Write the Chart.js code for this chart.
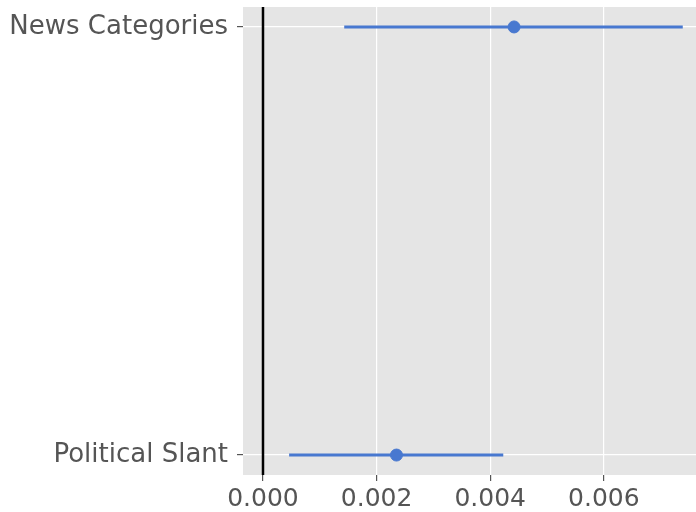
<!DOCTYPE html>
<html>
<head>
<meta charset="utf-8">
<script src="https://cdn.jsdelivr.net/npm/chart.js@4.4.0/dist/chart.umd.min.js"></script>
<style>
  html, body { margin: 0; padding: 0; background: #fff; overflow: hidden; }
  canvas { display: block; }
</style>
</head>
<body>
<canvas id="myChart" width="696" height="512"></canvas>
<script>
// coefficient estimates with their interval bounds, bottom row first
const categories = ['Political Slant', 'News Categories'];
const estimates = [0.00235, 0.00442];
const lowerBounds = [0.00046, 0.00143];
const upperBounds = [0.00423, 0.00739];
const xTicks = [0, 0.002, 0.004, 0.006];

const xMin = -0.000352;
const xMax = 0.007623;
const yPad = 0.0466;

const blue = '#4878d0';

// plot panel background
const panelBg = {
  id: 'panelBg',
  beforeDraw(chart) {
    const { ctx, chartArea: a } = chart;
    ctx.save();
    ctx.fillStyle = '#e5e5e5';
    ctx.fillRect(a.left, a.top, a.right - a.left, a.bottom - a.top);
    ctx.restore();
  }
};

const datasets = [];
// zero reference line
datasets.push({
  type: 'line',
  data: [{ x: 0, y: -yPad }, { x: 0, y: categories.length - 1 + yPad }],
  borderColor: '#000',
  borderWidth: 2.5,
  pointRadius: 0
});
// interval lines
categories.forEach((c, i) => {
  datasets.push({
    type: 'line',
    data: [{ x: lowerBounds[i], y: i }, { x: upperBounds[i], y: i }],
    borderColor: blue,
    borderWidth: 3,
    pointRadius: 0
  });
});
// point estimates
datasets.push({
  type: 'scatter',
  data: estimates.map((x, i) => ({ x, y: i })),
  backgroundColor: blue,
  borderColor: blue,
  pointRadius: 6,
  pointHoverRadius: 6
});

const ctx = document.getElementById('myChart').getContext('2d');
new Chart(ctx, {
  type: 'scatter',
  data: { datasets },
  plugins: [panelBg],
  options: {
    responsive: false,
    animation: false,
    layout: { autoPadding: false, padding: { top: 7, right: 0, left: 0, bottom: 0 } },
    plugins: { legend: { display: false }, tooltip: { enabled: false } },
    scales: {
      x: {
        type: 'linear',
        min: xMin,
        max: xMax,
        afterBuildTicks: s => { s.ticks = xTicks.map(v => ({ value: v })); },
        afterFit: s => { s.height = 37; s.paddingLeft = 0; s.paddingRight = 0; },
        border: { display: false },
        grid: { color: '#fff', lineWidth: 1.2, tickColor: '#555', tickLength: 6 },
        ticks: {
          padding: 3,
          color: '#555',
          font: { family: "'DejaVu Sans'", size: 25 },
          callback: v => v.toFixed(3)
        }
      },
      y: {
        type: 'linear',
        min: -yPad,
        max: categories.length - 1 + yPad,
        afterBuildTicks: s => { s.ticks = categories.map((c, i) => ({ value: i })); },
        afterFit: s => { s.width = 243; s.paddingTop = 0; s.paddingBottom = 0; },
        border: { display: false },
        grid: { color: '#fff', lineWidth: 1.2, tickColor: '#555', tickLength: 6 },
        ticks: {
          padding: 9,
          color: '#555',
          font: { family: "'DejaVu Sans'", size: 26 },
          callback: v => categories[v]
        }
      }
    }
  }
});
</script>
</body>
</html>
